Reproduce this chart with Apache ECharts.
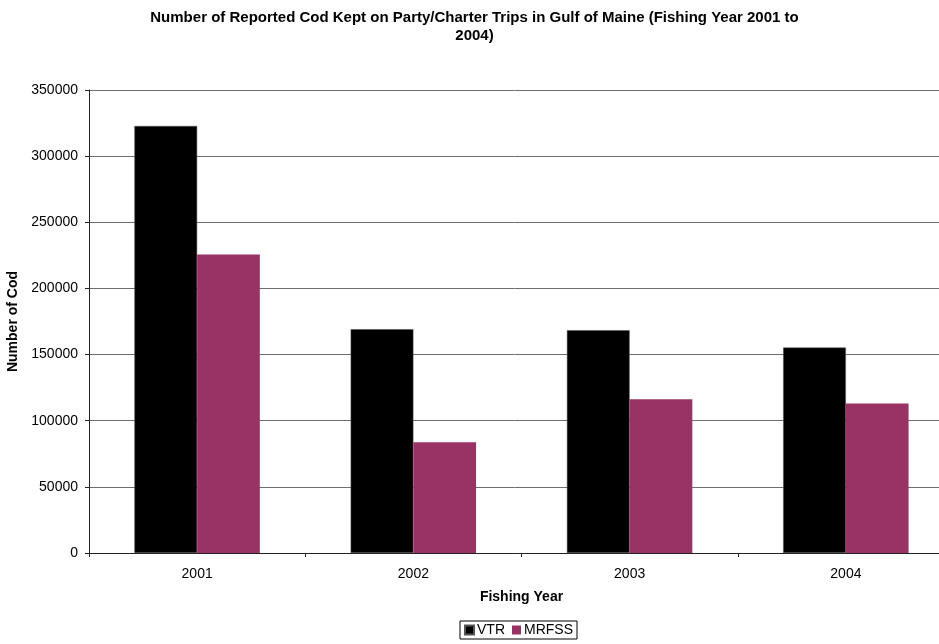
<!DOCTYPE html>
<html>
<head>
<meta charset="utf-8">
<script src="https://cdn.jsdelivr.net/npm/echarts@6/dist/echarts.min.js"></script>
<style>
html, body { margin: 0; padding: 0; background: #fff; }
#main { width: 939px; height: 644px; }
</style>
</head>
<body>
<div id="main"></div>
<script>
var years = ['2001', '2002', '2003', '2004'];
var vtr = [322800, 169200, 168400, 155300];
var mrfss = [225600, 83800, 116300, 113100];
var yTicks = { min: 0, max: 350000, interval: 50000 };

var font = 'Arial, "Liberation Sans", sans-serif';
var myChart = echarts.init(document.getElementById('main'));
var option = {
	animation: false,
	backgroundColor: '#fff',
	textStyle: { fontFamily: font },
	title: {
		text: 'Number of Reported Cod Kept on Party/Charter Trips in Gulf of Maine (Fishing Year 2001 to\n2004)',
		left: '50%',
		top: 4,
		textAlign: 'center',
		textStyle: { fontFamily: font, fontSize: 15, fontWeight: 'bold', color: '#000', lineHeight: 18 }
	},
	legend: {
		top: 621,
		left: 460,
		data: ['VTR', 'MRFSS'],
		icon: 'rect',
		itemWidth: 9,
		itemHeight: 9,
		itemGap: 7,
		padding: [2, 4, 2, 4],
		borderColor: '#000',
		borderWidth: 1,
		textStyle: { fontFamily: font, fontSize: 14, color: '#000', padding: [0, 0, 0, -2] }
	},
	grid: {
		left: 89,
		top: 90,
		width: 865,
		bottom: 91,
		outerBoundsMode: 'none',
		containLabel: false
	},
	xAxis: {
		type: 'category',
		data: years,
		name: 'Fishing Year',
		nameLocation: 'middle',
		nameGap: 37,
		nameTextStyle: { fontFamily: font, fontSize: 14, fontWeight: 'bold', color: '#000' },
		axisLine: { lineStyle: { color: '#222', width: 1 } },
		axisTick: { show: true, length: 4, lineStyle: { color: '#222' } },
		axisLabel: { fontFamily: font, fontSize: 14, color: '#000', margin: 14 }
	},
	yAxis: {
		type: 'value',
		min: yTicks.min,
		max: yTicks.max,
		interval: yTicks.interval,
		name: 'Number of Cod',
		nameLocation: 'middle',
		nameGap: 67,
		nameTextStyle: { fontFamily: font, fontSize: 14, fontWeight: 'bold', color: '#000' },
		axisLine: { show: true, lineStyle: { color: '#222', width: 1 } },
		axisTick: { show: true, length: 4, lineStyle: { color: '#222' } },
		axisLabel: {
			fontFamily: font, fontSize: 14, color: '#000', margin: 11,
			formatter: function(v) { return String(v); }
		},
		splitLine: { lineStyle: { color: '#6e6e6e', width: 1 } }
	},
	series: [{
		name: 'VTR',
		type: 'bar',
		data: vtr,
		barGap: '0%',
		barCategoryGap: '42%',
		itemStyle: { color: '#000000', borderColor: '#555', borderWidth: 0.5 }
	}, {
		name: 'MRFSS',
		type: 'bar',
		data: mrfss,
		barGap: '0%',
		barCategoryGap: '42%',
		itemStyle: { color: '#993366' }
	}]
};
myChart.setOption(option);
</script>
</body>
</html>
